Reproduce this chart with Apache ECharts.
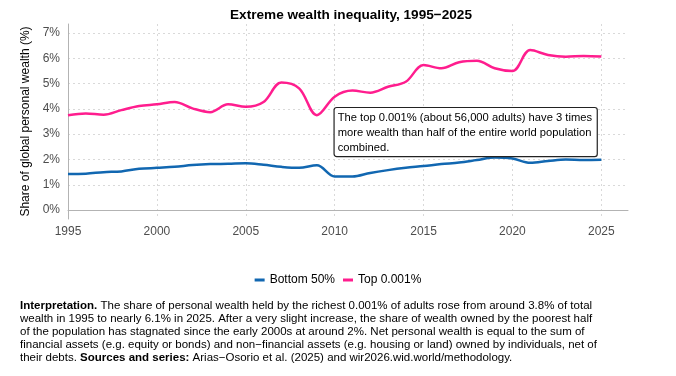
<!DOCTYPE html>
<html>
<head>
<meta charset="utf-8">
<script src="https://cdn.jsdelivr.net/npm/echarts@6/dist/echarts.min.js"></script>
<style>
  html, body { margin: 0; padding: 0; background: #fff; }
  #chart { width: 676px; height: 376px; }
</style>
</head>
<body>
<div id="chart"></div>
<script>
  // years and shares of global personal wealth (%)
  const years = [1995, 1996, 1997, 1998, 1999, 2000, 2001, 2002, 2003, 2004, 2005, 2006, 2007, 2008, 2009, 2010,
    2011, 2012, 2013, 2014, 2015, 2016, 2017, 2018, 2019, 2020, 2021, 2022, 2023, 2024, 2025];
  const bottom50 = [1.43, 1.44, 1.5, 1.53, 1.63, 1.67, 1.71, 1.78, 1.82, 1.83, 1.85, 1.79, 1.71, 1.67, 1.77, 1.33,
    1.33, 1.47, 1.58, 1.67, 1.74, 1.82, 1.88, 1.98, 2.08, 2.04, 1.87, 1.94, 2.0, 1.98, 1.99];
  const top0001 = [3.75, 3.82, 3.77, 3.95, 4.11, 4.18, 4.27, 4.02, 3.87, 4.18, 4.08, 4.27, 5.04, 4.81, 3.75, 4.48,
    4.72, 4.64, 4.87, 5.07, 5.73, 5.6, 5.84, 5.9, 5.6, 5.49, 6.32, 6.13, 6.06, 6.09, 6.07];
  const xTicks = [1995, 2000, 2005, 2010, 2015, 2020, 2025];
  const yTicks = [0, 1, 2, 3, 4, 5, 6, 7];

  const font = 'Liberation Sans, Arial, sans-serif';
  const toPairs = (vals) => years.map((y, i) => [y, vals[i]]);

  const chart = echarts.init(document.getElementById('chart'));

  const option = {
    animation: false,
    textStyle: { fontFamily: font },
    title: [
      {
        text: 'Extreme wealth inequality, 1995\u22122025',
        left: 346,
        textAlign: 'center',
        top: 3,
        textStyle: { fontSize: 13.6, fontWeight: 'bold', color: '#000', fontFamily: font },
      },
      {
        // interpretation note under the legend
        text: '{b|Interpretation.} The share of personal wealth held by the richest 0.001% of adults rose from around 3.8% of total\n' +
          'wealth in 1995 to nearly 6.1% in 2025. After a very slight increase, the share of wealth owned by the poorest half\n' +
          'of the population has stagnated since the early 2000s at around 2%. Net personal wealth is equal to the sum of\n' +
          'financial assets (e.g. equity or bonds) and non\u2212financial assets (e.g. housing or land) owned by individuals, net of\n' +
          'their debts. {b|Sources and series:} Arias\u2212Osorio et al. (2025) and wir2026.wid.world/methodology.',
        left: 20,
        top: 299,
        padding: 0,
        textStyle: {
          fontSize: 11.5,
          fontWeight: 'normal',
          color: '#000',
          lineHeight: 13,
          fontFamily: font,
          rich: {
            b: { fontWeight: 'bold', fontSize: 11.5, lineHeight: 13, color: '#000', fontFamily: font },
          },
        },
      },
    ],
    legend: {
      data: ['Bottom 50%', 'Top 0.001%'],
      left: 'center',
      top: 269,
      icon: 'rect',
      itemWidth: 10,
      itemHeight: 3,
      itemGap: 8,
      textStyle: { fontSize: 12, color: '#000', fontFamily: font },
    },
    grid: {
      left: 68,
      right: 48,
      top: 24,
      bottom: 157,
      containLabel: false,
    },
    xAxis: {
      type: 'value',
      min: 1995,
      max: 2026.5,
      axisLine: { show: true, lineStyle: { color: '#b3b3b3', width: 1 } },
      axisTick: { show: false, customValues: xTicks },
      axisLabel: {
        customValues: xTicks,
        formatter: (v) => String(v),
        color: '#4d4d4d',
        fontSize: 12,
        margin: 7,
        fontFamily: font,
      },
      splitLine: { show: true, lineStyle: { color: '#d9d9d9', type: [2, 3], width: 1 } },
    },
    yAxis: {
      type: 'value',
      min: -0.35,
      max: 7.35,
      name: 'Share of global personal wealth (%)',
      nameLocation: 'middle',
      nameGap: 33,
      nameTextStyle: { fontSize: 12, color: '#000', fontFamily: font },
      axisLine: { show: true, lineStyle: { color: '#b3b3b3', width: 1 } },
      axisTick: { show: false, customValues: yTicks },
      axisLabel: {
        customValues: yTicks,
        formatter: (v) => v + '%',
        color: '#4d4d4d',
        fontSize: 12,
        margin: 8,
        fontFamily: font,
      },
      splitLine: { show: true, lineStyle: { color: '#d9d9d9', type: [2, 3], width: 1 } },
    },
    series: [
      {
        name: 'Bottom 50%',
        type: 'line',
        data: toPairs(bottom50),
        smooth: 0.35,
        showSymbol: false,
        lineStyle: { color: '#1167b1', width: 2.5 },
        itemStyle: { color: '#1167b1' },
      },
      {
        name: 'Top 0.001%',
        type: 'line',
        data: toPairs(top0001),
        smooth: 0.35,
        showSymbol: false,
        lineStyle: { color: '#ff1d8e', width: 2.5 },
        itemStyle: { color: '#ff1d8e' },
        markPoint: {
          symbol: 'rect',
          symbolSize: 0,
          silent: true,
          data: [
            {
              coord: [2010, 4.03],
              label: {
                show: true,
                position: [0, 0],
                formatter: 'The top 0.001% (about 56,000 adults) have 3 times\nmore wealth than half of the entire world population\ncombined.',
                color: '#000',
                fontSize: 11.2,
                lineHeight: 15,
                fontFamily: font,
                backgroundColor: '#fff',
                borderColor: '#222',
                borderWidth: 1.2,
                borderRadius: 2,
                padding: [2, 4, 1, 3],
                width: 255,
              },
            },
          ],
        },
      },
    ],
  };

  chart.setOption(option);
</script>
</body>
</html>
